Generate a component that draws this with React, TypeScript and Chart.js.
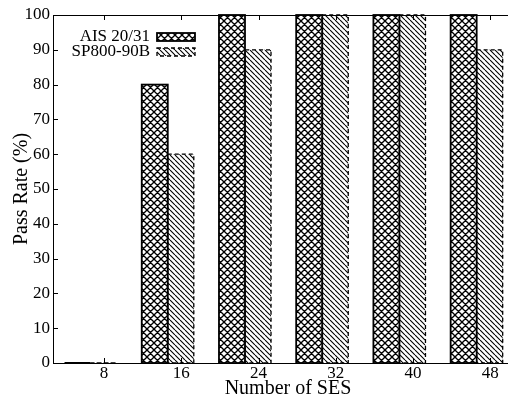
import React, { useEffect, useRef } from 'react';
import { Chart, registerables } from 'chart.js';

Chart.register(...registerables);

// ---- data ----
const categories = [8, 16, 24, 32, 40, 48];
const xLabels = ['8', '16', '24', '32', '40', '48'];
const seriesNames = ['AIS 20/31', 'SP800-90B'];
const aisValues = [0, 80, 100, 100, 100, 100];
const spValues = [0, 60, 90, 100, 100, 90];
const yMin = 0;
const yMax = 100;
const yStep = 10;

// ---- layout constants ----
const X_MIN = 4.11;
const X_MAX = 52.8;
const TICK_SHIFT = 1.4;
const FONT = "'Liberation Serif', 'DejaVu Serif', serif";

function crossTile(): HTMLCanvasElement {
  const s = 7;
  const c = document.createElement('canvas');
  c.width = s;
  c.height = s;
  const g = c.getContext('2d')!;
  g.fillStyle = '#fff';
  g.fillRect(0, 0, s, s);
  g.strokeStyle = '#000';
  g.lineWidth = 1.35;
  g.beginPath();
  for (const o of [-s, 0, s]) {
    g.moveTo(o, 0);
    g.lineTo(o + s, s);
    g.moveTo(o + s, 0);
    g.lineTo(o, s);
  }
  g.stroke();
  return c;
}

function hatchTile(): HTMLCanvasElement {
  const s = 5;
  const c = document.createElement('canvas');
  c.width = s;
  c.height = s;
  const g = c.getContext('2d')!;
  g.fillStyle = '#fff';
  g.fillRect(0, 0, s, s);
  g.strokeStyle = '#000';
  g.lineWidth = 1.1;
  g.beginPath();
  for (const o of [-s, 0, s]) {
    g.moveTo(o, 0);
    g.lineTo(o + s, s);
  }
  g.stroke();
  return c;
}

export default function App() {
  const canvasRef = useRef<HTMLCanvasElement | null>(null);

  useEffect(() => {
    const canvas = canvasRef.current;
    if (!canvas) return;
    const ctx = canvas.getContext('2d')!;
    const crossPat = ctx.createPattern(crossTile(), 'repeat')!;
    const hatchPat = ctx.createPattern(hatchTile(), 'repeat')!;

    const styles = [
      { fill: crossPat, dash: [] as number[], lw: 1.8 },
      { fill: hatchPat, dash: [4, 3], lw: 1.3 },
    ];

    const barBorders = {
      id: 'barBorders',
      afterDatasetsDraw(chart: any) {
        const c = chart.ctx;
        chart.data.datasets.forEach((_: any, di: number) => {
          const meta = chart.getDatasetMeta(di);
          const st = styles[di];
          c.save();
          c.strokeStyle = '#000';
          c.lineWidth = st.lw;
          c.setLineDash(st.dash);
          meta.data.forEach((el: any) => {
            const { x, y, base, width } = el.getProps(['x', 'y', 'base', 'width'], true);
            const left = x - width / 2;
            const top = Math.min(y, base);
            const h = Math.abs(base - y);
            c.strokeRect(left, top, width, h);
          });
          c.restore();
        });
      },
    };

    const frame = {
      id: 'frame',
      afterDraw(chart: any) {
        const c = chart.ctx;
        const a = chart.chartArea;
        const xs = chart.scales.x;
        const ys = chart.scales.y;
        c.save();
        c.strokeStyle = '#000';
        c.lineWidth = 1;
        c.beginPath();
        c.moveTo(a.left, a.top + 0.5);
        c.lineTo(a.right, a.top + 0.5);
        // inward y ticks
        ys.ticks.forEach((t: any) => {
          const py = Math.round(ys.getPixelForValue(t.value)) + 0.5;
          c.moveTo(a.left, py);
          c.lineTo(a.left + 5, py);
        });
        // inward x ticks (bottom and mirrored on top)
        xs.ticks.forEach((t: any) => {
          const px = Math.round(xs.getPixelForValue(t.value)) + 0.5;
          c.moveTo(px, a.bottom);
          c.lineTo(px, a.bottom - 5);
          c.moveTo(px, a.top);
          c.lineTo(px, a.top + 5);
        });
        c.stroke();

        // legend inside plot area, top-left, text right-aligned, sample on the right
        c.font = `17px ${FONT}`;
        c.fillStyle = '#000';
        c.textAlign = 'right';
        c.textBaseline = 'middle';
        const textRight = a.left + 97;
        const rows = [a.top + 22, a.top + 37];
        seriesNames.forEach((name, i) => {
          const cy = rows[i];
          c.fillText(name, textRight, cy);
          const sx = textRight + 7;
          const sw = 38;
          const sh = 8;
          c.fillStyle = styles[i].fill as any;
          c.fillRect(sx, cy - sh / 2, sw, sh);
          c.strokeStyle = '#000';
          c.lineWidth = styles[i].lw;
          c.setLineDash(styles[i].dash);
          c.strokeRect(sx, cy - sh / 2, sw, sh);
          c.setLineDash([]);
          c.fillStyle = '#000';
        });
        c.restore();
      },
    };

    const chart = new Chart(canvas, {
      type: 'bar',
      data: {
        datasets: [
          {
            label: seriesNames[0],
            data: categories.map((c, i) => ({ x: c, y: aisValues[i] })),
            backgroundColor: crossPat as any,
            borderWidth: 0,
          },
          {
            label: seriesNames[1],
            data: categories.map((c, i) => ({ x: c, y: spValues[i] })),
            backgroundColor: hatchPat as any,
            borderWidth: 0,
          },
        ],
      },
      options: {
        responsive: false,
        animation: false,
        devicePixelRatio: 1,
        layout: { padding: { top: 15, right: 17, left: 0, bottom: 0 } },
        datasets: { bar: { barPercentage: 1, categoryPercentage: 0.674 } } as any,
        plugins: { legend: { display: false }, tooltip: { enabled: false } },
        scales: {
          x: {
            type: 'linear',
            min: X_MIN,
            max: X_MAX,
            offset: false,
            grid: { display: false, drawTicks: false, offset: false },
            border: { display: true, color: '#000', width: 1 },
            afterBuildTicks: (s: any) => {
              s.ticks = categories.map((c) => ({ value: c + TICK_SHIFT }));
            },
            afterFit: (s: any) => {
              s.height = 38;
            },
            ticks: {
              callback: (_v: any, i: number) => xLabels[i],
              font: { family: FONT, size: 17 },
              color: '#000',
              padding: 0,
              maxRotation: 0,
              autoSkip: false,
            },
            title: {
              display: true,
              text: 'Number of SES',
              font: { family: FONT, size: 20 },
              color: '#000',
              padding: { top: 0, bottom: 0 },
            },
          } as any,
          y: {
            min: yMin,
            max: yMax,
            grid: { display: false, drawTicks: false },
            border: { display: true, color: '#000', width: 1 },
            afterFit: (s: any) => {
              s.width = 53;
            },
            ticks: {
              stepSize: yStep,
              font: { family: FONT, size: 17 },
              color: '#000',
              padding: 3,
            },
            title: {
              display: true,
              text: 'Pass Rate (%)',
              font: { family: FONT, size: 20 },
              color: '#000',
              padding: { top: 10, bottom: 0 },
            },
          } as any,
        },
      },
      plugins: [barBorders, frame],
    });

    return () => chart.destroy();
  }, []);

  return (
    <div
      style={{
        position: 'absolute',
        left: 0,
        top: 0,
        width: 508,
        height: 401,
        overflow: 'hidden',
        background: '#fff',
      }}
    >
      <canvas ref={canvasRef} width={540} height={401} style={{ display: 'block' }} />
    </div>
  );
}
